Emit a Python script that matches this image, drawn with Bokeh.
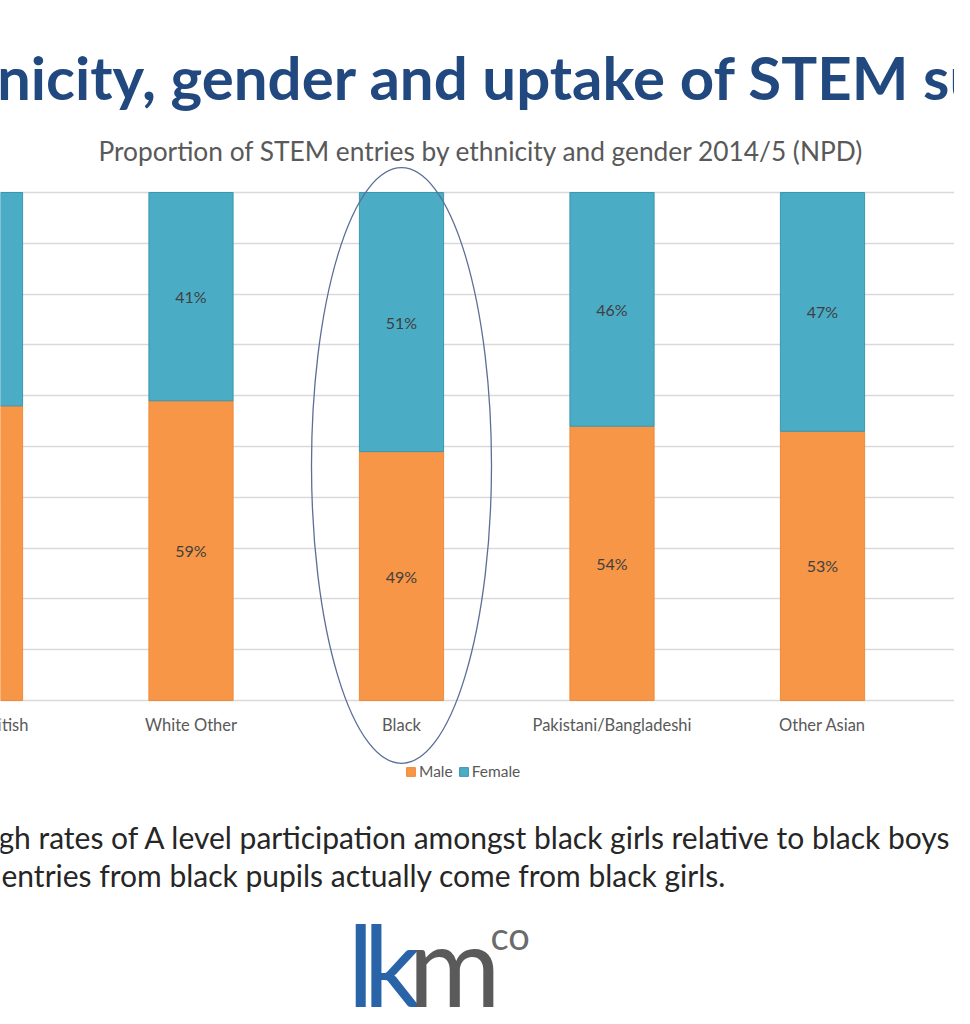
from bokeh.plotting import figure
from bokeh.models import ColumnDataSource, Range1d, FixedTicker
from bokeh.core.properties import value
from bokeh.embed import file_html
from bokeh.resources import INLINE


categories = ["White British", "White Other", "Black", "Pakistani/Bangladeshi", "Other Asian"]
male = [58, 59, 49, 54, 53]
female = [42, 41, 51, 46, 47]

ORANGE = "#f79646"
TEAL = "#4bacc6"
FONT = value("Lato")

# layout helpers (canvas pixels -> data units)
STEP = 210.5      # pixels between category centres
FIRST = -20       # x of first category centre
def dx(px):
    return (px - FIRST) / STEP
def dy(py):
    return (700 - py) / 5.08

W, H = 954, 1008
xs = list(range(len(categories)))
src = ColumnDataSource(data=dict(
    x=xs,
    cat=categories,
    male=male,
    female=female,
    male_mid=[m / 2 for m in male],
    female_mid=[m + f / 2 for m, f in zip(male, female)],
    male_lbl=[f"{m}%" for m in male],
    female_lbl=[f"{f}%" for f in female],
))

p = figure(width=W, height=H, output_backend="svg", toolbar_location=None,
           x_range=Range1d(dx(0), dx(W)), y_range=Range1d(dy(H), dy(0)),
           min_border=0)
p.outline_line_color = None
p.axis.visible = False
p.xgrid.visible = False
p.ygrid.ticker = FixedTicker(ticks=list(range(0, 101, 10)))
p.ygrid.grid_line_color = "#d9d9d9"
p.ygrid.grid_line_width = 1.5

p.vbar_stack(["male", "female"], x="x", width=0.4, source=src,
             color=[ORANGE, TEAL], line_color=["#f08a3a", "#3a97b0"],
             legend_label=["Male", "Female"])

p.text(x="x", y="male_mid", text="male_lbl", source=src, text_align="center",
       text_baseline="middle", text_font=FONT, text_font_size="16px", text_color="#404040")
p.text(x="x", y="female_mid", text="female_lbl", source=src, text_align="center",
       text_baseline="middle", text_font=FONT, text_font_size="16px", text_color="#404040")

# category labels
p.text(x="x", y=dy(724), text="cat", source=src, text_align="center",
       text_baseline="middle", text_font=FONT, text_font_size="16.5px", text_color="#595959")

# highlight around Black
p.ellipse(x=[categories.index("Black")], y=[dy(465)], width=180 / STEP, height=596 / 5.08,
          fill_color=None, line_color="#5b6f96", line_width=1.3)

# titles
p.text(x=[dx(-93)], y=[dy(76)], text=["Ethnicity, gender and uptake of STEM subjects"],
       text_font=FONT, text_font_style="bold", text_font_size="60px",
       text_color="#21497f", text_baseline="middle")
p.text(x=[dx(481)], y=[dy(150)],
       text=["Proportion of STEM entries by ethnicity and gender 2014/5 (NPD)"],
       text_font=FONT, text_font_size="26.3px", text_color="#595959",
       text_align="center", text_baseline="middle")

# commentary
p.text(x=[dx(-26)], y=[dy(836)],
       text=["high rates of A level participation amongst black girls relative to black boys"],
       text_font=FONT, text_font_size="30px", text_color="#262626", text_baseline="middle")
p.text(x=[dx(1)], y=[dy(874)],
       text=["entries from black pupils actually come from black girls."],
       text_font=FONT, text_font_size="30px", text_color="#262626", text_baseline="middle")

# logo
p.text(x=[dx(347), dx(363)], y=[dy(963)] * 2, text=["l", "k"], text_font=FONT,
       text_font_size="112px", text_color="#2a64a8", text_baseline="middle")
p.text(x=[dx(408)], y=[dy(963)], text=["m"], text_font=FONT,
       text_font_size="112px", text_color="#5a5a5a", text_baseline="middle")
p.text(x=[dx(490)], y=[dy(934)], text=["co"], text_font=FONT,
       text_font_size="38px", text_color="#6b6b6b", text_baseline="middle")

# legend
p.legend.orientation = "horizontal"
p.legend.location = (405, 228)
p.legend.padding = 0
p.legend.margin = 0
p.legend.spacing = 5
p.legend.glyph_width = 11
p.legend.glyph_height = 11
p.legend.label_standoff = 3
p.legend.label_text_font = "Lato"
p.legend.label_text_font_size = "15.5px"
p.legend.label_text_color = "#595959"
p.legend.background_fill_alpha = 0
p.legend.border_line_color = None

open("out.html", "w").write(file_html(p, INLINE))
